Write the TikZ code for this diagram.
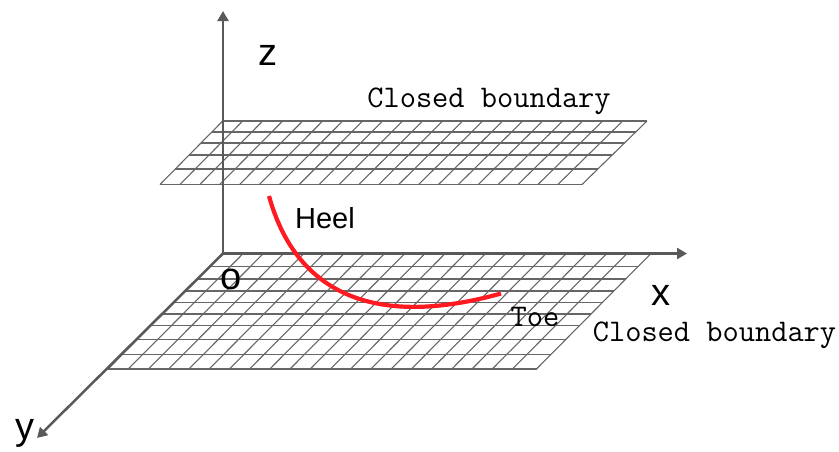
\documentclass[tikz,border=0pt]{standalone}
\usepackage{xcolor}
\usepackage{fontspec}
\setsansfont{Liberation Sans}
\usepackage{tikz}
\usetikzlibrary{calc, arrows.meta}
\definecolor{axisgray}{HTML}{595959}
\definecolor{gridgray}{HTML}{666666}
\definecolor{curvered}{HTML}{FF1A22}
\tikzset{
  axisline/.style={draw=axisgray, line width=2.5pt, -{Triangle[length=10pt, width=11pt]}},
  gridline/.style={draw=gridgray, line width=1.1pt},
  axislabel/.style={font=\sffamily\fontsize{38}{38}\selectfont, text=black, inner sep=0pt},
  heellabel/.style={font=\sffamily\fontsize{29}{29}\selectfont, text=black, inner sep=0pt},
  bdlabel/.style={font=\ttfamily\fontsize{31.5}{32}\selectfont, text=black, inner sep=0pt}
}

\begin{document}
\begin{tikzpicture}[x=1pt, y=-1pt]
    \useasboundingbox (0,0) rectangle (839,451);
    % upper plate
    \coordinate (ua) at (222.7,121);
    \coordinate (ub) at (647,121);
    \coordinate (uc) at (582,184.5);
    \coordinate (ud) at (160,184.5);
    \foreach \ypos in {121,132,143,155,169,184.5} {
      \pgfmathsetmacro{\t}{(\ypos-121)/63.5}
      \draw[gridline] ($(ua)!\t!(ud)$) -- ($(ub)!\t!(uc)$);
    }
    \foreach \i in {0,...,20} {
      \pgfmathsetmacro{\t}{\i*20/424.3}
      \draw[gridline] ($(ua)!\t!(ub)$) -- ($(ud)!\t!(uc)$);
    }
    \draw[gridline] (ub) -- (uc);
    % lower plate
    \coordinate (la) at (223,253.5);
    \coordinate (lb) at (651,253.5);
    \coordinate (lc) at (536.5,369);
    \coordinate (ld) at (108,369);
    \foreach \ypos in {253.5,266.7,279,291,302.3,314,325.7,339.3,354.3,369} {
      \pgfmathsetmacro{\t}{(\ypos-253.5)/115.5}
      \draw[gridline] ($(la)!\t!(ld)$) -- ($(lb)!\t!(lc)$);
    }
    \foreach \i in {0,...,20} {
      \pgfmathsetmacro{\t}{\i*20.2/428}
      \draw[gridline] ($(la)!\t!(lb)$) -- ($(ld)!\t!(lc)$);
    }
    \draw[gridline] (lb) -- (lc);
    % axes
    \coordinate (origin) at (223,253.5);
    \coordinate (zend) at (223,11);
    \coordinate (xend) at (687,253.5);
    \coordinate (yend) at (37,438);
    \draw[axisline] (origin) -- (zend);
    \draw[axisline] (origin) -- (xend);
    \draw[axisline] (origin) -- (yend);
    % heel to toe curve
    \coordinate (heel) at (269,196);
    \coordinate (toe) at (501,293.5);
    \draw[curvered, line width=4.2pt] (heel) .. controls (295,290) and (370,330) .. (toe);
    % labels
    \node[axislabel] (zlabel) at (268,55) {z};
    \node[axislabel] (xlabel) at (661,295) {x};
    \node[axislabel] (ylabel) at (25,433) {y};
    \node[axislabel] (olabel) at (231,279) {o};
    \node[heellabel] (heeltext) at (325,218) {Heel};
    \node[bdlabel] (toptext) at (489,101) {Closed boundary};
    \node[bdlabel] (lowtext) at (714.5,335.5) {Closed boundary};
    \node[bdlabel] (toetext) at (535,317) {Toe};
\end{tikzpicture}
\end{document}
